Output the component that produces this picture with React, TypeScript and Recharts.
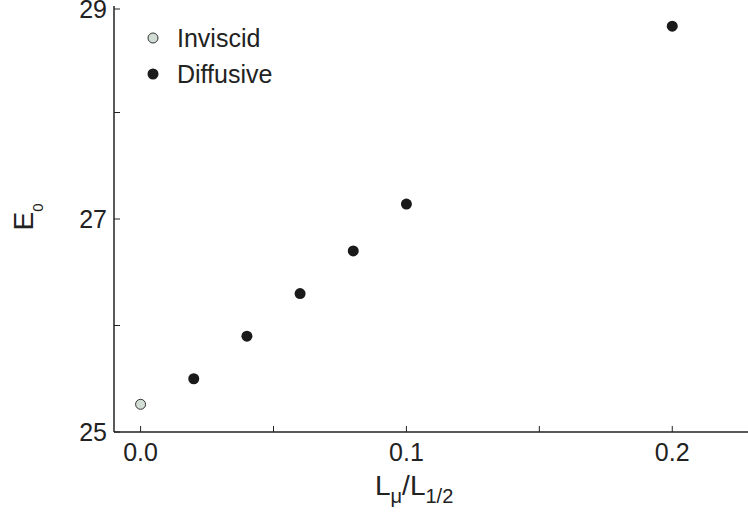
import { FC } from 'react'
import { Scatter, ScatterChart, XAxis, YAxis } from 'recharts'

const inviscidX = [0]
const inviscidY = [25.26]

const diffusiveX = [0.02, 0.04, 0.06, 0.08, 0.1, 0.2]
const diffusiveY = [25.5, 25.9, 26.3, 26.7, 27.14, 28.81]

const xTicks = [0, 0.05, 0.1, 0.15, 0.2]
const xLabelled = [0, 0.1, 0.2]
const yTicks = [25, 26, 27, 28, 29]
const yLabelled = [25, 27, 29]

const seriesNames = ['Inviscid', 'Diffusive']

const FONT = '"Liberation Sans", Arial, Helvetica, sans-serif'
const INK = '#222222'
const INVISCID_FILL = '#d2ded5'

const inviscidData = inviscidX.map((x, i) => ({ x, y: inviscidY[i] }))
const diffusiveData = diffusiveX.map((x, i) => ({ x, y: diffusiveY[i] }))

const near = (list: number[], v: number) => list.some((t) => Math.abs(t - v) < 1e-9)

type TickProps = { x: number; y: number; payload: { value: number } }

const BottomTick: FC<TickProps> = ({ x, y, payload }) => (
  <g>
    <line x1={x} x2={x} y1={y} y2={y - 6} stroke={INK} strokeWidth={1} />
    {near(xLabelled, payload.value) && (
      <text x={x} y={y} dy={29} textAnchor="middle" fill={INK} fontSize={25} fontFamily={FONT}>
        {payload.value.toFixed(1)}
      </text>
    )}
  </g>
)

const TopTick: FC<TickProps> = ({ x, y }) => (
  <line x1={x} x2={x} y1={y} y2={y + 6} stroke={INK} strokeWidth={1} />
)

// keep the top label (29) just inside the picture
const LeftTick: FC<TickProps> = ({ x, y, payload }) => (
  <g>
    <line x1={x} x2={x + 6} y1={y} y2={y} stroke={INK} strokeWidth={1} />
    {near(yLabelled, payload.value) && (
      <text x={x - 7} y={Math.max(y + 9, 18)} textAnchor="end" fill={INK} fontSize={25} fontFamily={FONT}>
        {payload.value}
      </text>
    )}
  </g>
)

const RightTick: FC<TickProps> = ({ x, y }) => (
  <line x1={x} x2={x - 6} y1={y} y2={y} stroke={INK} strokeWidth={1} />
)

const Dot = (fill: string, r: number, stroke?: string) => (props: any) => (
  <circle cx={props.cx} cy={props.cy} r={r} fill={fill} stroke={stroke ?? 'none'} strokeWidth={1} />
)

const XTitle = () => (
  <text x={375} y={495} fill={INK} fontSize={28} fontFamily={FONT}>
    L
    <tspan fontSize={20} dy={8}>μ</tspan>
    <tspan dy={-8}>/L</tspan>
    <tspan fontSize={20} dy={8}>1/2</tspan>
  </text>
)

const YTitle = () => (
  <text transform="translate(33,217) rotate(-90)" x={0} y={0} textAnchor="middle" fill={INK} fontSize={28} fontFamily={FONT}>
    E<tspan fontSize={15} dy={10}>0</tspan>
  </text>
)

const axisLine = { stroke: INK, strokeWidth: 1.5 }

const App: FC = () => {
  return (
    <div style={{ position: 'absolute', left: 0, top: 0, width: 748, height: 516, overflow: 'hidden', background: '#fff' }}>
      <ScatterChart width={760} height={516} margin={{ top: 6, right: 8, bottom: 0, left: 0 }}>
        <XAxis
          xAxisId="bottom"
          type="number"
          dataKey="x"
          domain={[-0.01, 0.23]}
          ticks={xTicks}
          allowDataOverflow
          height={84}
          tickSize={0}
          tickMargin={0}
          tickLine={false}
          axisLine={axisLine}
          tick={(p: any) => <BottomTick {...p} />}
          label={{ content: () => <XTitle /> }}
        />
        <XAxis
          xAxisId="top"
          orientation="top"
          type="number"
          dataKey="x"
          domain={[-0.01, 0.23]}
          ticks={xTicks}
          allowDataOverflow
          height={0}
          tickSize={0}
          tickMargin={0}
          tickLine={false}
          axisLine={axisLine}
          tick={(p: any) => <TopTick {...p} />}
        />
        <YAxis
          yAxisId="left"
          type="number"
          dataKey="y"
          domain={[25, 29]}
          ticks={yTicks}
          allowDataOverflow
          width={114}
          tickSize={0}
          tickMargin={0}
          tickLine={false}
          axisLine={axisLine}
          tick={(p: any) => <LeftTick {...p} />}
          label={{ content: () => <YTitle /> }}
        />
        <YAxis
          yAxisId="right"
          orientation="right"
          type="number"
          dataKey="y"
          domain={[25, 29]}
          ticks={yTicks}
          allowDataOverflow
          width={0}
          tickSize={0}
          tickMargin={0}
          tickLine={false}
          axisLine={axisLine}
          tick={(p: any) => <RightTick {...p} />}
        />
        <Scatter
          name={seriesNames[0]}
          data={inviscidData}
          xAxisId="bottom"
          yAxisId="left"
          isAnimationActive={false}
          shape={Dot(INVISCID_FILL, 5, '#333333')}
        />
        <Scatter
          name={seriesNames[1]}
          data={diffusiveData}
          xAxisId="bottom"
          yAxisId="left"
          isAnimationActive={false}
          shape={Dot('#1a1a1a', 5.5)}
        />
      </ScatterChart>
      <div style={{ position: 'absolute', left: 147, top: 20, fontFamily: FONT, fontSize: 25, color: INK }}>
        {seriesNames.map((name, i) => (
          <div key={name} style={{ display: 'flex', alignItems: 'center', height: 36, lineHeight: '36px' }}>
            <svg width={12} height={12} style={{ marginRight: 18 }}>
              {i === 0 ? (
                <circle cx={6} cy={6} r={5} fill={INVISCID_FILL} stroke="#333333" strokeWidth={1} />
              ) : (
                <circle cx={6} cy={6} r={5.5} fill="#1a1a1a" />
              )}
            </svg>
            <span>{name}</span>
          </div>
        ))}
      </div>
    </div>
  )
}

export default App
